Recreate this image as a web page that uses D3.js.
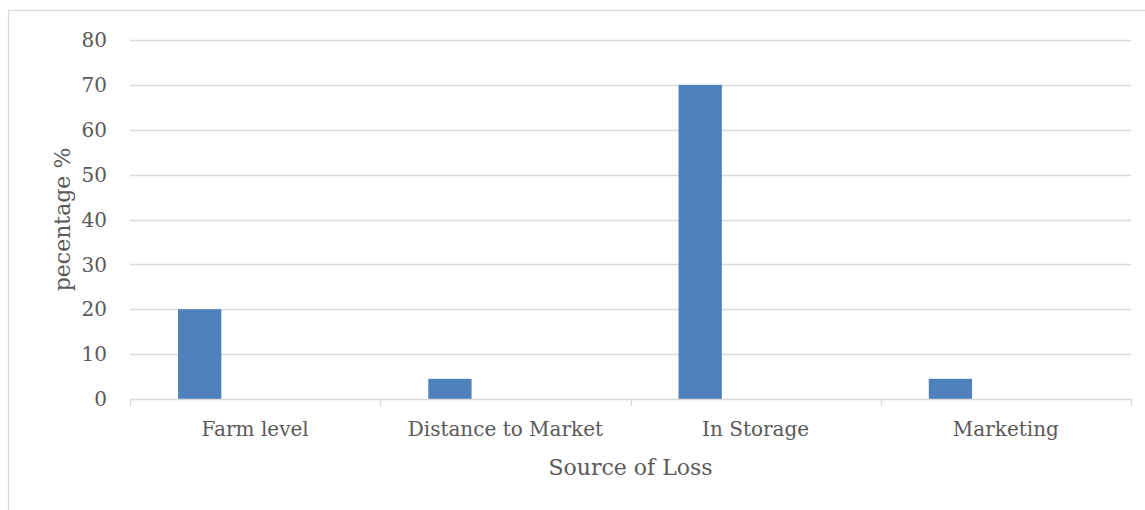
<!DOCTYPE html>
<html><head><meta charset="utf-8">
<script src="https://cdn.jsdelivr.net/npm/d3@7"></script>
<style>body{margin:0;background:#fff}svg{display:block}</style>
</head><body>
<svg id="c" width="1145" height="510"></svg>
<script>
const categories = ["Farm level", "Distance to Market", "In Storage", "Marketing"];
const values = [20, 4.5, 70, 4.5];
const yTicks = [0, 10, 20, 30, 40, 50, 60, 70, 80];
const xTitle = "Source of Loss";
const yTitle = "pecentage %";

const svg = d3.select("#c");
const font = "'DejaVu Serif', serif";
const textColor = "#595959";
const gridColor = "#d9d9d9";

svg.append("rect").attr("x", 8.5).attr("y", 10.5).attr("width", 1145).attr("height", 520)
  .attr("fill", "none").attr("stroke", gridColor).attr("stroke-width", 1.3);

const x = d3.scaleBand().domain(categories).range([130, 1131]).paddingInner(0).paddingOuter(0);
const y = d3.scaleLinear().domain([0, 80]).range([399, 40]);

// gridlines
svg.append("g").selectAll("line").data(yTicks.filter(d => d > 0)).join("line")
  .attr("x1", 130).attr("x2", 1131)
  .attr("y1", d => Math.round(y(d)) + 0.5).attr("y2", d => Math.round(y(d)) + 0.5)
  .attr("stroke", gridColor).attr("stroke-width", 1.3);

// y labels
svg.append("g").selectAll("text").data(yTicks).join("text")
  .attr("x", 107).attr("y", d => y(d)).attr("dy", "0.36em")
  .attr("text-anchor", "end").attr("font-family", font).attr("font-size", 20)
  .attr("fill", textColor).text(d => d);

// bars
const bw = x.bandwidth();
svg.append("g").selectAll("rect").data(categories).join("rect")
  .attr("x", (d) => x(d) + bw * 0.192)
  .attr("width", bw * 0.173)
  .attr("y", (d, i) => y(values[i]))
  .attr("height", (d, i) => y(0) - y(values[i]))
  .attr("fill", "#4f81bd");

// x axis line & ticks
svg.append("line").attr("x1", 130).attr("x2", 1131).attr("y1", 399.5).attr("y2", 399.5)
  .attr("stroke", gridColor).attr("stroke-width", 1.3);
const bounds = categories.map(c => x(c)).concat([x.range()[1]]);
svg.append("g").selectAll("line").data(bounds).join("line")
  .attr("x1", d => Math.round(d) + 0.5).attr("x2", d => Math.round(d) + 0.5)
  .attr("y1", 399).attr("y2", 406)
  .attr("stroke", gridColor).attr("stroke-width", 1.3);

// x labels
svg.append("g").selectAll("text").data(categories).join("text")
  .attr("x", d => x(d) + bw / 2).attr("y", 436)
  .attr("text-anchor", "middle").attr("font-family", font).attr("font-size", 20)
  .attr("fill", textColor).text(d => d);

// titles
svg.append("text").attr("x", 630.5).attr("y", 475).attr("text-anchor", "middle")
  .attr("font-family", font).attr("font-size", 22).attr("fill", textColor).text(xTitle);
svg.append("text").attr("transform", "translate(70,219.5) rotate(-90)").attr("text-anchor", "middle")
  .attr("font-family", font).attr("font-size", 22).attr("fill", textColor).text(yTitle);
</script>
</body></html>
